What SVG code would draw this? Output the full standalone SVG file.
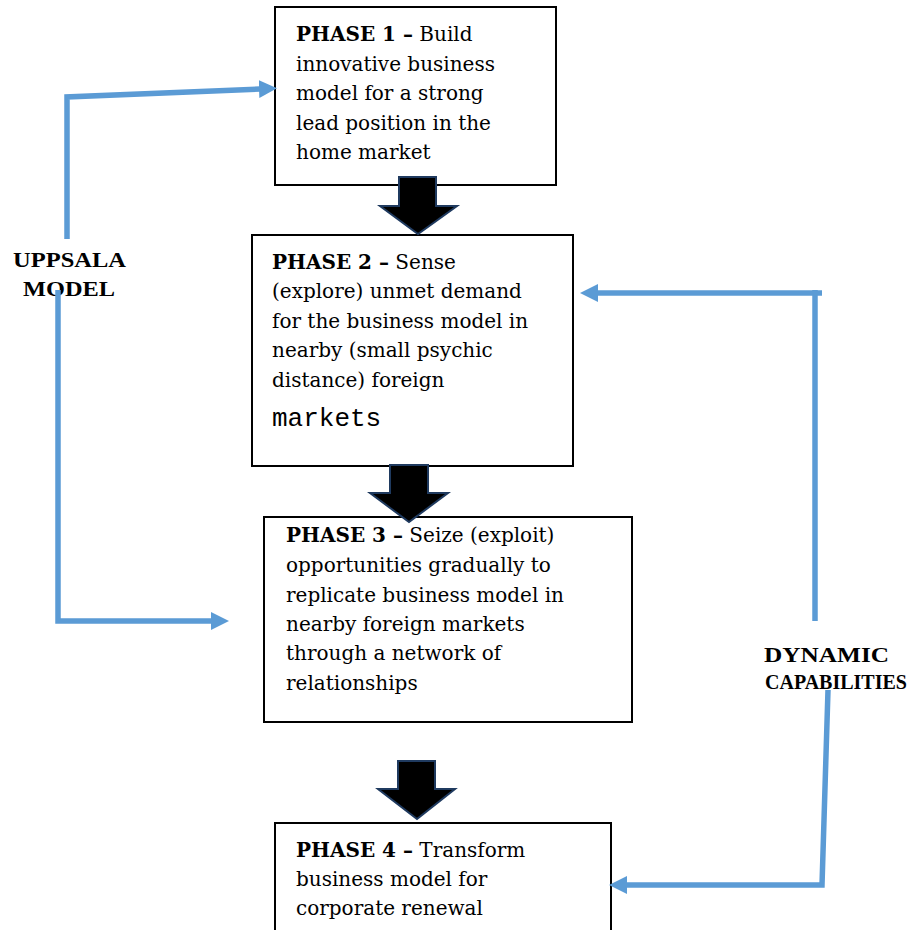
<svg xmlns="http://www.w3.org/2000/svg" width="912" height="930" viewBox="0 0 912 930">
<style>
.box{fill:#fff;stroke:#000;stroke-width:2}
.t{font-family:"DejaVu Serif","Liberation Serif",serif;font-size:20px;fill:#000}
.b{font-weight:bold}
.lbl{font-family:"Liberation Serif","Times New Roman",serif;font-size:22px;font-weight:bold;fill:#000;text-anchor:middle}
.mono{font-family:"Liberation Mono","DejaVu Sans Mono",monospace;font-size:26px}
.blk{fill:#000;stroke:#1f3a5f;stroke-width:2;stroke-linejoin:miter}
.con{fill:none;stroke:#5b9bd5;stroke-width:5.5}
</style>
<defs>
<marker id="ah" markerUnits="userSpaceOnUse" markerWidth="20" markerHeight="20" refX="1" refY="9" orient="auto">
<path d="M0,0 L18,9 L0,18 z" fill="#5b9bd5"/>
</marker>
</defs>
<rect width="912" height="930" fill="#fff"/>

<g id="phase1">
<rect class="box" x="275" y="7" width="281" height="178"/>
<text class="t" x="296" y="41"><tspan class="b">PHASE 1 –</tspan> Build</text>
<text class="t" x="296" y="71">innovative business</text>
<text class="t" x="296" y="100">model for a strong</text>
<text class="t" x="296" y="130">lead position in the</text>
<text class="t" x="296" y="159">home market</text>
</g>

<g id="phase2">
<rect class="box" x="252" y="235" width="321" height="231"/>
<text class="t" x="272" y="269"><tspan class="b">PHASE 2 –</tspan> Sense</text>
<text class="t" x="272" y="298">(explore) unmet demand</text>
<text class="t" x="272" y="328">for the business model in</text>
<text class="t" x="272" y="357">nearby (small psychic</text>
<text class="t" x="272" y="387">distance) foreign</text>
<text class="mono" x="272" y="426">markets</text>
</g>

<g id="phase3">
<rect class="box" x="264" y="517" width="368" height="205"/>
<text class="t" x="286" y="542"><tspan class="b">PHASE 3 –</tspan> Seize (exploit)</text>
<text class="t" x="286" y="572">opportunities gradually to</text>
<text class="t" x="286" y="602">replicate business model in</text>
<text class="t" x="286" y="631">nearby foreign markets</text>
<text class="t" x="286" y="660">through a network of</text>
<text class="t" x="286" y="690">relationships</text>
</g>

<g id="phase4">
<rect class="box" x="275" y="823" width="336" height="120"/>
<text class="t" x="296" y="857"><tspan class="b">PHASE 4 –</tspan> Transform</text>
<text class="t" x="296" y="886">business model for</text>
<text class="t" x="296" y="915">corporate renewal</text>
</g>

<g id="uppsala">
<text class="lbl" x="69.5" y="267" textLength="113" lengthAdjust="spacingAndGlyphs">UPPSALA</text>
<text class="lbl" x="69" y="296" textLength="92" lengthAdjust="spacingAndGlyphs">MODEL</text>
</g>

<g id="dynamic">
<text class="lbl" x="826.5" y="662" textLength="125" lengthAdjust="spacingAndGlyphs">DYNAMIC</text>
<text class="lbl" x="836" y="689" style="font-size:20px">CAPABILITIES</text>
</g>

<g id="connectors">
<path class="blk" d="M399,177 H436 V206 H457 L418,234 L380,206 H399 Z"/>
<path class="blk" d="M390,465 H428 V493 H448 L409,522 L370,493 H390 Z"/>
<path class="blk" d="M398,761 H435 V789 H455 L417,819 L378,789 H398 Z"/>
<path class="con" d="M67,239 V97 L260,89" marker-end="url(#ah)"/>
<path class="con" d="M58,290 V621 H212" marker-end="url(#ah)"/>
<path class="con" d="M815,621 V290"/>
<path class="con" d="M822,293 H597" marker-end="url(#ah)"/>
<path class="con" d="M828,690 L822,885 H626" marker-end="url(#ah)"/>
</g>
</svg>
